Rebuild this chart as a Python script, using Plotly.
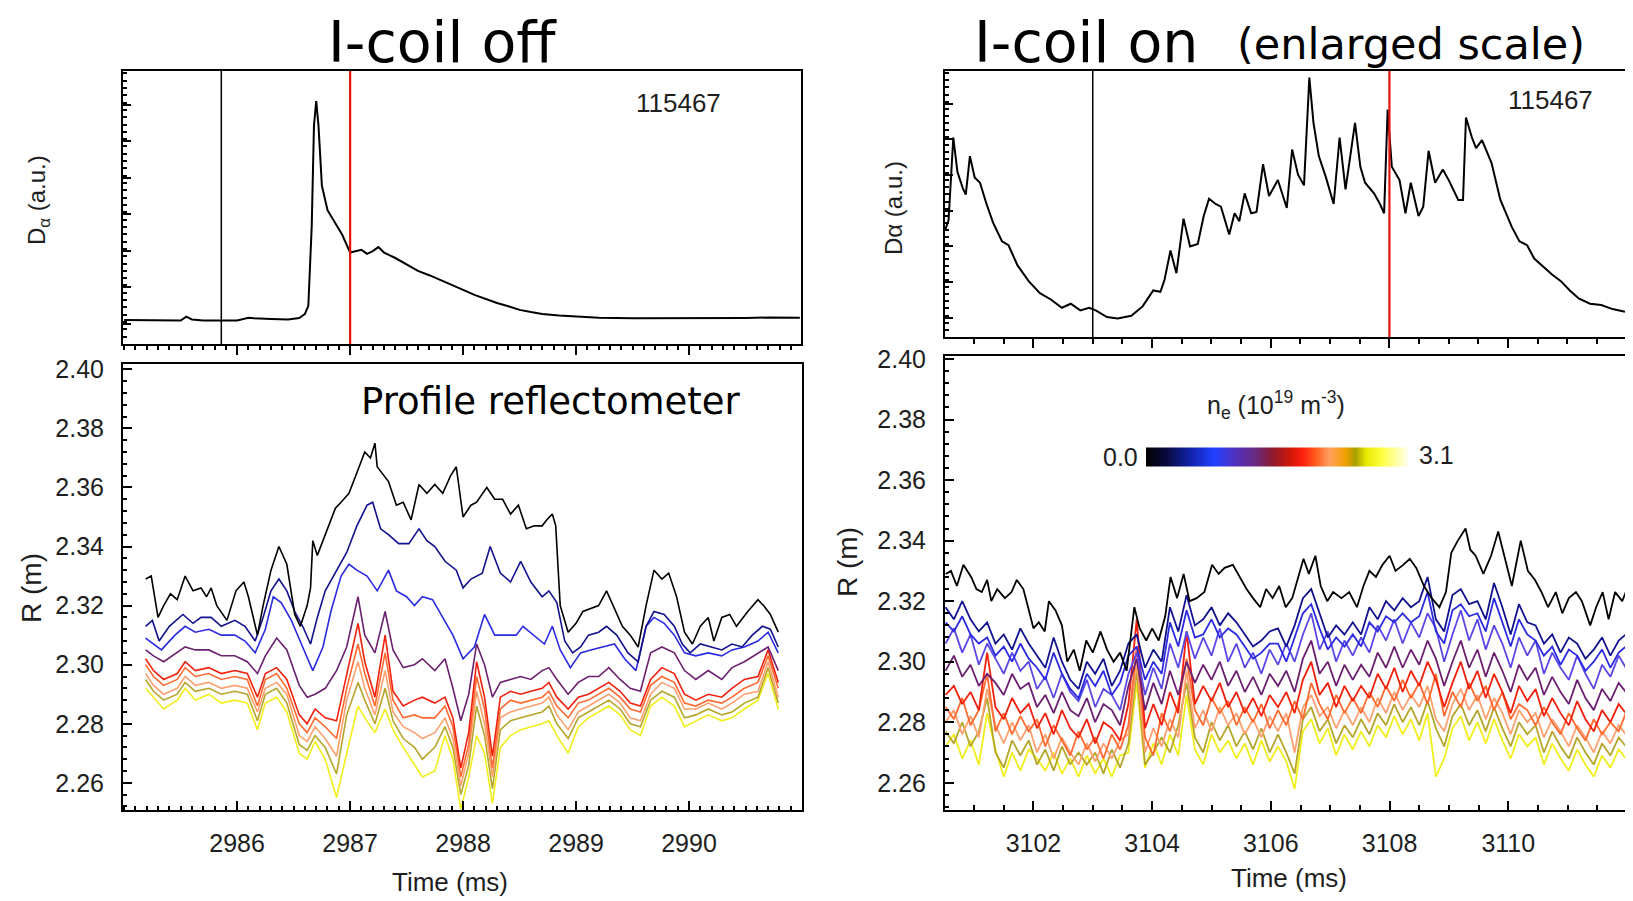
import plotly.graph_objects as go

# ---------------- D-alpha, I-coil off (arb. units, 0..1) ----------------
t_da_off = [2985.00, 2985.20, 2985.40, 2985.50, 2985.55, 2985.60, 2985.70, 2985.85, 2986.00, 2986.10,
            2986.15, 2986.30, 2986.45, 2986.55, 2986.60, 2986.63, 2986.66, 2986.68, 2986.70, 2986.72,
            2986.75, 2986.80, 2986.87, 2986.93, 2987.00, 2987.05, 2987.10, 2987.15, 2987.20, 2987.25,
            2987.30, 2987.40, 2987.50, 2987.60, 2987.70, 2987.80, 2987.90, 2988.00, 2988.10, 2988.20,
            2988.30, 2988.40, 2988.50, 2988.60, 2988.70, 2988.85, 2989.00, 2989.20, 2989.50, 2989.80,
            2990.00, 2990.30, 2990.50, 2990.70, 2990.98]
da_off = [0.088, 0.087, 0.085, 0.086, 0.100, 0.090, 0.086, 0.085, 0.086, 0.096,
          0.094, 0.092, 0.090, 0.095, 0.110, 0.140, 0.430, 0.800, 0.890, 0.800,
          0.580, 0.490, 0.440, 0.400, 0.335, 0.340, 0.345, 0.330, 0.340, 0.355,
          0.335, 0.315, 0.290, 0.268, 0.252, 0.235, 0.215, 0.198, 0.180, 0.165,
          0.150, 0.138, 0.125, 0.117, 0.110, 0.104, 0.100, 0.096, 0.094, 0.094,
          0.095, 0.096, 0.095, 0.097, 0.096]

# ---------------- D-alpha, I-coil on ----------------
t_da_on = [3100.51, 3100.57, 3100.65, 3100.72, 3100.81, 3100.86, 3100.93, 3101.01, 3101.10, 3101.21,
           3101.32, 3101.47, 3101.58, 3101.73, 3101.92, 3102.11, 3102.30, 3102.48, 3102.63, 3102.79,
           3102.94, 3103.05, 3103.24, 3103.42, 3103.65, 3103.84, 3104.02, 3104.14, 3104.21, 3104.31,
           3104.41, 3104.53, 3104.64, 3104.77, 3104.87, 3104.96, 3105.07, 3105.16, 3105.30, 3105.39,
           3105.47, 3105.56, 3105.67, 3105.76, 3105.87, 3105.97, 3106.12, 3106.27, 3106.36, 3106.46,
           3106.56, 3106.65, 3106.72, 3106.81, 3106.93, 3107.06, 3107.16, 3107.26, 3107.42, 3107.51,
           3107.59, 3107.74, 3107.84, 3107.91, 3107.97, 3108.04, 3108.17, 3108.27, 3108.36, 3108.49,
           3108.57, 3108.66, 3108.77, 3108.90, 3109.01, 3109.16, 3109.24, 3109.29, 3109.39, 3109.46,
           3109.56, 3109.72, 3109.87, 3110.06, 3110.19, 3110.32, 3110.44, 3110.59, 3110.74, 3110.89,
           3111.04, 3111.19, 3111.38, 3111.57, 3111.76, 3111.97]
da_on = [0.40, 0.44, 0.75, 0.62, 0.56, 0.535, 0.68, 0.60, 0.58, 0.50,
         0.43, 0.36, 0.345, 0.27, 0.21, 0.165, 0.14, 0.11, 0.125, 0.10,
         0.11, 0.10, 0.075, 0.07, 0.08, 0.115, 0.175, 0.17, 0.215, 0.325,
         0.24, 0.445, 0.34, 0.35, 0.455, 0.52, 0.50, 0.49, 0.385, 0.465,
         0.435, 0.54, 0.465, 0.47, 0.65, 0.53, 0.59, 0.485, 0.705, 0.61,
         0.57, 0.975, 0.805, 0.68, 0.60, 0.50, 0.75, 0.555, 0.805, 0.64,
         0.58, 0.54, 0.50, 0.465, 0.855, 0.64, 0.59, 0.465, 0.58, 0.455,
         0.49, 0.70, 0.58, 0.63, 0.585, 0.515, 0.515, 0.825, 0.75, 0.71,
         0.74, 0.655, 0.515, 0.415, 0.36, 0.345, 0.295, 0.265, 0.235, 0.21,
         0.175, 0.145, 0.125, 0.12, 0.105, 0.095]

# time markers (ms)
marker_off = [2985.86, 2987.00]
marker_on = [3103.00, 3108.00]

# ---------------- Reflectometer R (m), I-coil off ----------------
t_off_black = [2985.19, 2985.24, 2985.30, 2985.35, 2985.41, 2985.47, 2985.54, 2985.61, 2985.68, 2985.73,
               2985.77, 2985.82, 2985.91, 2985.99, 2986.06, 2986.10, 2986.18, 2986.23, 2986.30, 2986.37,
               2986.44, 2986.51, 2986.56, 2986.62, 2986.65, 2986.67, 2986.71, 2986.78, 2986.87, 2986.92,
               2986.99, 2987.06, 2987.13, 2987.18, 2987.22, 2987.24, 2987.34, 2987.41, 2987.47, 2987.54,
               2987.61, 2987.68, 2987.75, 2987.82, 2987.89, 2987.94, 2988.00, 2988.07, 2988.12, 2988.21,
               2988.28, 2988.35, 2988.42, 2988.49, 2988.56, 2988.63, 2988.70, 2988.74, 2988.79, 2988.82,
               2988.86, 2988.93, 2989.00, 2989.06, 2989.13, 2989.20, 2989.27, 2989.34, 2989.41, 2989.48,
               2989.55, 2989.62, 2989.69, 2989.76, 2989.82, 2989.89, 2989.96, 2990.03, 2990.10, 2990.17,
               2990.22, 2990.29, 2990.36, 2990.42, 2990.52, 2990.61, 2990.66, 2990.72, 2990.79]
r_off_black = [2.329, 2.330, 2.316, 2.320, 2.324, 2.322, 2.330, 2.325, 2.326, 2.323,
               2.326, 2.320, 2.315, 2.325, 2.328, 2.323, 2.310, 2.320, 2.332, 2.340,
               2.334, 2.317, 2.313, 2.320, 2.326, 2.342, 2.337, 2.344, 2.353, 2.355,
               2.358, 2.365, 2.372, 2.370, 2.375, 2.367, 2.362, 2.354, 2.355, 2.349,
               2.361, 2.358, 2.361, 2.358, 2.364, 2.367, 2.350, 2.354, 2.355, 2.360,
               2.356, 2.356, 2.351, 2.354, 2.346, 2.347, 2.347, 2.349, 2.351, 2.347,
               2.320, 2.311, 2.314, 2.318, 2.319, 2.320, 2.325, 2.319, 2.313, 2.310,
               2.306, 2.320, 2.332, 2.329, 2.331, 2.323, 2.311, 2.307, 2.313, 2.316,
               2.308, 2.316, 2.317, 2.313, 2.318, 2.322, 2.320, 2.317, 2.311]

t_off_navy = [2985.19, 2985.25, 2985.31, 2985.40, 2985.52, 2985.61, 2985.68, 2985.77, 2985.86, 2985.98,
              2986.07, 2986.16, 2986.23, 2986.30, 2986.37, 2986.44, 2986.51, 2986.58, 2986.65, 2986.71,
              2986.78, 2986.88, 2986.97, 2987.06, 2987.15, 2987.20, 2987.27, 2987.34, 2987.43, 2987.52,
              2987.61, 2987.68, 2987.75, 2987.84, 2987.94, 2988.00, 2988.07, 2988.17, 2988.24, 2988.33,
              2988.42, 2988.51, 2988.60, 2988.70, 2988.76, 2988.83, 2988.90, 2988.97, 2989.04, 2989.11,
              2989.20, 2989.27, 2989.36, 2989.46, 2989.55, 2989.62, 2989.69, 2989.78, 2989.87, 2989.94,
              2990.01, 2990.10, 2990.19, 2990.29, 2990.38, 2990.47, 2990.56, 2990.65, 2990.72, 2990.79]
r_off_navy = [2.313, 2.315, 2.308, 2.313, 2.317, 2.314, 2.316, 2.316, 2.313, 2.315,
              2.313, 2.308, 2.316, 2.325, 2.329, 2.325, 2.318, 2.313, 2.307, 2.316,
              2.325, 2.332, 2.338, 2.347, 2.354, 2.355, 2.346, 2.344, 2.341, 2.341,
              2.346, 2.342, 2.340, 2.335, 2.332, 2.326, 2.329, 2.331, 2.340, 2.331,
              2.328, 2.335, 2.328, 2.323, 2.325, 2.321, 2.308, 2.304, 2.306, 2.310,
              2.311, 2.313, 2.310, 2.304, 2.301, 2.313, 2.318, 2.317, 2.313, 2.307,
              2.304, 2.307, 2.306, 2.305, 2.307, 2.306, 2.310, 2.313, 2.312, 2.306]

t_off_blue = [2985.19, 2985.26, 2985.33, 2985.45, 2985.54, 2985.63, 2985.75, 2985.86, 2985.98, 2986.07,
              2986.16, 2986.25, 2986.32, 2986.39, 2986.48, 2986.58, 2986.67, 2986.76, 2986.83, 2986.92,
              2986.99, 2987.06, 2987.15, 2987.24, 2987.34, 2987.41, 2987.50, 2987.57, 2987.64, 2987.73,
              2987.82, 2987.91, 2988.00, 2988.10, 2988.19, 2988.28, 2988.37, 2988.47, 2988.53, 2988.63,
              2988.72, 2988.79, 2988.86, 2988.95, 2989.04, 2989.13, 2989.23, 2989.34, 2989.43, 2989.53,
              2989.62, 2989.69, 2989.78, 2989.87, 2989.96, 2990.06, 2990.17, 2990.29, 2990.38, 2990.49,
              2990.61, 2990.70, 2990.79]
r_off_blue = [2.309, 2.307, 2.305, 2.310, 2.313, 2.311, 2.312, 2.310, 2.310, 2.308,
              2.304, 2.312, 2.323, 2.321, 2.315, 2.306, 2.298, 2.306, 2.318, 2.330,
              2.334, 2.332, 2.330, 2.325, 2.332, 2.325, 2.323, 2.320, 2.323, 2.322,
              2.316, 2.310, 2.302, 2.306, 2.317, 2.310, 2.310, 2.310, 2.313, 2.310,
              2.307, 2.313, 2.305, 2.299, 2.304, 2.305, 2.306, 2.307, 2.302, 2.298,
              2.313, 2.316, 2.314, 2.310, 2.304, 2.303, 2.304, 2.303, 2.305, 2.306,
              2.308, 2.311, 2.304]

t_off = [2985.19, 2985.26, 2985.35, 2985.47, 2985.54, 2985.63, 2985.75, 2985.86, 2985.98, 2986.09,
         2986.18, 2986.25, 2986.35, 2986.44, 2986.55, 2986.62, 2986.69, 2986.78, 2986.88, 2986.97,
         2987.07, 2987.13, 2987.22, 2987.31, 2987.38, 2987.47, 2987.57, 2987.64, 2987.75, 2987.84,
         2987.91, 2987.98, 2988.05, 2988.12, 2988.19, 2988.26, 2988.33, 2988.42, 2988.51, 2988.60,
         2988.70, 2988.76, 2988.83, 2988.93, 2989.02, 2989.11, 2989.20, 2989.29, 2989.39, 2989.48,
         2989.57, 2989.66, 2989.76, 2989.87, 2989.96, 2990.06, 2990.17, 2990.29, 2990.38, 2990.49,
         2990.61, 2990.70, 2990.79]
r_off_purple = [2.305, 2.303, 2.301, 2.304, 2.306, 2.305, 2.305, 2.303, 2.303, 2.301,
                2.297, 2.303, 2.309, 2.305, 2.293, 2.289, 2.290, 2.292, 2.298, 2.306,
                2.323, 2.310, 2.304, 2.318, 2.305, 2.299, 2.300, 2.302, 2.298, 2.302,
                2.292, 2.281, 2.290, 2.307, 2.300, 2.289, 2.294, 2.295, 2.296, 2.295,
                2.298, 2.299, 2.295, 2.290, 2.294, 2.296, 2.296, 2.299, 2.295, 2.292,
                2.291, 2.304, 2.306, 2.304, 2.298, 2.295, 2.298, 2.295, 2.299, 2.301,
                2.304, 2.306, 2.298]
r_off_red = [2.302, 2.298, 2.295, 2.297, 2.301, 2.298, 2.299, 2.297, 2.298, 2.297,
             2.289, 2.297, 2.299, 2.295, 2.283, 2.280, 2.285, 2.282, 2.281, 2.297,
             2.314, 2.301, 2.289, 2.310, 2.291, 2.286, 2.288, 2.289, 2.287, 2.289,
             2.282, 2.265, 2.277, 2.301, 2.289, 2.269, 2.289, 2.291, 2.290, 2.291,
             2.292, 2.294, 2.289, 2.285, 2.289, 2.290, 2.292, 2.294, 2.291, 2.287,
             2.286, 2.295, 2.299, 2.297, 2.290, 2.288, 2.290, 2.289, 2.292, 2.295,
             2.296, 2.305, 2.294]
r_off_orange = [2.300, 2.296, 2.293, 2.295, 2.299, 2.296, 2.297, 2.295, 2.296, 2.295,
                2.286, 2.295, 2.297, 2.292, 2.280, 2.277, 2.282, 2.279, 2.275, 2.292,
                2.307, 2.297, 2.286, 2.304, 2.288, 2.282, 2.283, 2.282, 2.282, 2.286,
                2.279, 2.262, 2.273, 2.296, 2.285, 2.265, 2.285, 2.288, 2.287, 2.288,
                2.289, 2.291, 2.286, 2.282, 2.287, 2.288, 2.290, 2.292, 2.289, 2.285,
                2.284, 2.293, 2.296, 2.294, 2.287, 2.286, 2.288, 2.287, 2.289, 2.292,
                2.294, 2.303, 2.292]
r_off_lorange = [2.297, 2.293, 2.290, 2.292, 2.296, 2.293, 2.294, 2.292, 2.293, 2.292,
                 2.284, 2.292, 2.294, 2.290, 2.276, 2.274, 2.279, 2.275, 2.269, 2.288,
                 2.301, 2.292, 2.283, 2.298, 2.284, 2.279, 2.277, 2.275, 2.277, 2.282,
                 2.275, 2.259, 2.270, 2.291, 2.280, 2.262, 2.282, 2.284, 2.285, 2.286,
                 2.287, 2.289, 2.283, 2.278, 2.284, 2.286, 2.288, 2.290, 2.287, 2.282,
                 2.281, 2.290, 2.294, 2.292, 2.285, 2.285, 2.287, 2.285, 2.287, 2.290,
                 2.291, 2.301, 2.289]
r_off_olive = [2.295, 2.291, 2.288, 2.290, 2.294, 2.291, 2.292, 2.290, 2.291, 2.290,
               2.281, 2.290, 2.292, 2.287, 2.273, 2.271, 2.276, 2.272, 2.263, 2.283,
               2.294, 2.288, 2.280, 2.292, 2.281, 2.275, 2.272, 2.268, 2.272, 2.279,
               2.272, 2.256, 2.266, 2.286, 2.276, 2.258, 2.278, 2.281, 2.282, 2.283,
               2.284, 2.286, 2.280, 2.275, 2.282, 2.284, 2.286, 2.288, 2.285, 2.280,
               2.279, 2.288, 2.291, 2.289, 2.282, 2.283, 2.285, 2.283, 2.284, 2.287,
               2.289, 2.299, 2.287]
r_off_yellow = [2.292, 2.289, 2.285, 2.288, 2.292, 2.288, 2.290, 2.287, 2.288, 2.287,
                2.278, 2.287, 2.289, 2.284, 2.270, 2.268, 2.274, 2.268, 2.255, 2.270,
                2.286, 2.282, 2.277, 2.285, 2.278, 2.272, 2.266, 2.262, 2.264, 2.276,
                2.268, 2.251, 2.262, 2.276, 2.270, 2.253, 2.272, 2.276, 2.278, 2.279,
                2.280, 2.281, 2.276, 2.270, 2.279, 2.282, 2.284, 2.286, 2.283, 2.278,
                2.276, 2.286, 2.289, 2.286, 2.279, 2.281, 2.283, 2.281, 2.282, 2.285,
                2.288, 2.297, 2.285]

# ---------------- Reflectometer R (m), I-coil on ----------------
t_on_black = [3100.52, 3100.61, 3100.71, 3100.82, 3100.95, 3101.04, 3101.13, 3101.22, 3101.29, 3101.39,
              3101.52, 3101.63, 3101.72, 3101.83, 3101.91, 3102.00, 3102.09, 3102.19, 3102.26, 3102.37,
              3102.48, 3102.57, 3102.68, 3102.78, 3102.89, 3103.00, 3103.13, 3103.24, 3103.35, 3103.46,
              3103.57, 3103.70, 3103.79, 3103.90, 3104.00, 3104.11, 3104.22, 3104.31, 3104.42, 3104.53,
              3104.63, 3104.75, 3104.88, 3105.01, 3105.12, 3105.22, 3105.36, 3105.47, 3105.59, 3105.70,
              3105.82, 3105.92, 3106.03, 3106.14, 3106.25, 3106.36, 3106.46, 3106.55, 3106.64, 3106.75,
              3106.84, 3106.95, 3107.05, 3107.19, 3107.32, 3107.45, 3107.56, 3107.66, 3107.77, 3107.88,
              3108.00, 3108.10, 3108.23, 3108.34, 3108.45, 3108.58, 3108.71, 3108.84, 3108.95, 3109.04,
              3109.15, 3109.28, 3109.36, 3109.45, 3109.58, 3109.71, 3109.83, 3109.93, 3110.06, 3110.21,
              3110.33, 3110.45, 3110.56, 3110.67, 3110.80, 3110.91, 3111.02, 3111.14, 3111.24, 3111.38,
              3111.48, 3111.59, 3111.69, 3111.80, 3111.92, 3111.98]
r_on_black = [2.329, 2.330, 2.325, 2.332, 2.328, 2.324, 2.323, 2.327, 2.320, 2.324,
              2.321, 2.323, 2.327, 2.324, 2.318, 2.311, 2.313, 2.310, 2.320, 2.317,
              2.312, 2.300, 2.304, 2.297, 2.307, 2.303, 2.310, 2.304, 2.300, 2.303,
              2.297, 2.318, 2.311, 2.307, 2.311, 2.307, 2.315, 2.328, 2.321, 2.329,
              2.320, 2.321, 2.323, 2.332, 2.329, 2.331, 2.332, 2.328, 2.324, 2.321,
              2.318, 2.324, 2.321, 2.325, 2.318, 2.321, 2.328, 2.334, 2.329, 2.335,
              2.325, 2.320, 2.323, 2.321, 2.323, 2.318, 2.325, 2.330, 2.328, 2.332,
              2.335, 2.330, 2.332, 2.334, 2.331, 2.325, 2.321, 2.318, 2.323, 2.336,
              2.340, 2.344, 2.337, 2.335, 2.329, 2.335, 2.343, 2.335, 2.325, 2.340,
              2.330, 2.327, 2.323, 2.318, 2.323, 2.316, 2.321, 2.323, 2.320, 2.312,
              2.318, 2.323, 2.314, 2.323, 2.320, 2.323]

t_on = [3100.52, 3100.66, 3100.80, 3100.94, 3101.08, 3101.22, 3101.36, 3101.50, 3101.64, 3101.78,
        3101.92, 3102.06, 3102.20, 3102.34, 3102.48, 3102.62, 3102.76, 3102.90, 3103.04, 3103.18,
        3103.32, 3103.46, 3103.60, 3103.74, 3103.88, 3104.02, 3104.16, 3104.30, 3104.44, 3104.58,
        3104.72, 3104.86, 3105.00, 3105.14, 3105.28, 3105.42, 3105.56, 3105.70, 3105.84, 3105.98,
        3106.12, 3106.26, 3106.40, 3106.54, 3106.68, 3106.82, 3106.96, 3107.10, 3107.24, 3107.38,
        3107.52, 3107.66, 3107.80, 3107.94, 3108.08, 3108.22, 3108.36, 3108.50, 3108.64, 3108.78,
        3108.92, 3109.06, 3109.20, 3109.34, 3109.48, 3109.62, 3109.76, 3109.90, 3110.04, 3110.18,
        3110.32, 3110.46, 3110.60, 3110.74, 3110.88, 3111.02, 3111.16, 3111.30, 3111.44, 3111.58,
        3111.72, 3111.86, 3111.98]
r_on_navy = [2.318, 2.314, 2.320, 2.314, 2.310, 2.313, 2.306, 2.309, 2.304, 2.311,
             2.306, 2.302, 2.298, 2.308, 2.300, 2.294, 2.291, 2.300, 2.296, 2.301,
             2.292, 2.297, 2.306, 2.309, 2.298, 2.304, 2.300, 2.318, 2.310, 2.322,
             2.312, 2.314, 2.318, 2.312, 2.316, 2.313, 2.309, 2.305, 2.307, 2.310,
             2.311, 2.305, 2.312, 2.321, 2.324, 2.316, 2.308, 2.312, 2.309, 2.313,
             2.309, 2.318, 2.314, 2.320, 2.317, 2.321, 2.318, 2.320, 2.328, 2.314,
             2.310, 2.322, 2.324, 2.319, 2.320, 2.314, 2.326, 2.318, 2.309, 2.319,
             2.313, 2.312, 2.306, 2.309, 2.303, 2.308, 2.306, 2.301, 2.304, 2.308,
             2.302, 2.307, 2.309]
r_on_blue = [2.313, 2.310, 2.315, 2.309, 2.306, 2.308, 2.302, 2.305, 2.300, 2.306,
             2.301, 2.298, 2.294, 2.303, 2.296, 2.291, 2.288, 2.296, 2.292, 2.297,
             2.289, 2.293, 2.302, 2.305, 2.294, 2.300, 2.296, 2.313, 2.305, 2.317,
             2.308, 2.309, 2.314, 2.308, 2.311, 2.309, 2.305, 2.301, 2.303, 2.306,
             2.306, 2.300, 2.308, 2.316, 2.319, 2.311, 2.304, 2.308, 2.305, 2.309,
             2.305, 2.313, 2.310, 2.315, 2.313, 2.316, 2.313, 2.315, 2.323, 2.310,
             2.306, 2.317, 2.319, 2.315, 2.316, 2.310, 2.321, 2.313, 2.305, 2.314,
             2.309, 2.307, 2.302, 2.305, 2.299, 2.304, 2.302, 2.297, 2.300, 2.304,
             2.298, 2.303, 2.305]
r_on_violet = [2.306, 2.311, 2.303, 2.309, 2.299, 2.306, 2.301, 2.296, 2.303, 2.297,
               2.300, 2.291, 2.295, 2.288, 2.296, 2.290, 2.287, 2.294, 2.285, 2.291,
               2.289, 2.284, 2.296, 2.303, 2.289, 2.298, 2.291, 2.306, 2.298, 2.310,
               2.301, 2.308, 2.302, 2.311, 2.300, 2.306, 2.298, 2.303, 2.296, 2.304,
               2.299, 2.306, 2.300, 2.309, 2.316, 2.304, 2.310, 2.300, 2.307, 2.302,
               2.308, 2.303, 2.312, 2.307, 2.314, 2.306, 2.313, 2.308, 2.316, 2.311,
               2.300, 2.309, 2.317, 2.307, 2.314, 2.304, 2.312, 2.306, 2.298, 2.308,
               2.302, 2.307, 2.296, 2.303, 2.298, 2.294, 2.302, 2.296, 2.291, 2.299,
               2.295, 2.302, 2.298]
r_on_purple = [2.297, 2.302, 2.295, 2.299, 2.292, 2.296, 2.293, 2.289, 2.296, 2.291,
               2.293, 2.285, 2.289, 2.283, 2.290, 2.284, 2.282, 2.288, 2.280, 2.286,
               2.284, 2.279, 2.292, 2.301, 2.284, 2.293, 2.286, 2.297, 2.289, 2.300,
               2.293, 2.299, 2.294, 2.300, 2.292, 2.297, 2.290, 2.295, 2.289, 2.296,
               2.292, 2.297, 2.290, 2.301, 2.307, 2.296, 2.300, 2.292, 2.299, 2.294,
               2.299, 2.295, 2.303, 2.298, 2.305, 2.298, 2.304, 2.299, 2.307, 2.301,
               2.292, 2.300, 2.307, 2.298, 2.304, 2.295, 2.303, 2.297, 2.290, 2.299,
               2.294, 2.298, 2.289, 2.295, 2.290, 2.286, 2.294, 2.288, 2.284, 2.291,
               2.287, 2.293, 2.290]
r_on_red = [2.289, 2.292, 2.286, 2.290, 2.284, 2.303, 2.285, 2.281, 2.288, 2.283,
            2.286, 2.278, 2.283, 2.276, 2.284, 2.278, 2.275, 2.281, 2.273, 2.280,
            2.278, 2.274, 2.286, 2.314, 2.278, 2.286, 2.279, 2.290, 2.283, 2.310,
            2.286, 2.292, 2.287, 2.293, 2.285, 2.290, 2.283, 2.288, 2.282, 2.289,
            2.285, 2.290, 2.283, 2.294, 2.300, 2.289, 2.293, 2.285, 2.292, 2.287,
            2.292, 2.288, 2.296, 2.291, 2.298, 2.290, 2.297, 2.292, 2.300, 2.294,
            2.285, 2.293, 2.300, 2.291, 2.297, 2.288, 2.296, 2.290, 2.283, 2.292,
            2.287, 2.291, 2.282, 2.288, 2.283, 2.279, 2.287, 2.281, 2.277, 2.284,
            2.280, 2.286, 2.283]
r_on_orange = [2.285, 2.281, 2.288, 2.279, 2.284, 2.296, 2.277, 2.283, 2.276, 2.282,
               2.277, 2.281, 2.272, 2.279, 2.274, 2.269, 2.277, 2.271, 2.275, 2.268,
               2.276, 2.271, 2.279, 2.305, 2.275, 2.269, 2.283, 2.277, 2.286, 2.301,
               2.284, 2.279, 2.288, 2.283, 2.287, 2.279, 2.285, 2.280, 2.286, 2.278,
               2.284, 2.279, 2.287, 2.281, 2.293, 2.286, 2.281, 2.289, 2.283, 2.288,
               2.283, 2.290, 2.285, 2.292, 2.287, 2.294, 2.288, 2.293, 2.286, 2.296,
               2.282, 2.290, 2.285, 2.293, 2.287, 2.292, 2.284, 2.290, 2.281, 2.286,
               2.284, 2.279, 2.285, 2.280, 2.276, 2.283, 2.278, 2.274, 2.281, 2.276,
               2.280, 2.277, 2.283]
r_on_lorange = [2.280, 2.284, 2.276, 2.282, 2.275, 2.291, 2.279, 2.273, 2.280, 2.274,
                2.279, 2.270, 2.276, 2.268, 2.275, 2.270, 2.266, 2.273, 2.267, 2.273,
                2.268, 2.274, 2.276, 2.300, 2.270, 2.278, 2.272, 2.281, 2.275, 2.297,
                2.278, 2.284, 2.277, 2.285, 2.279, 2.283, 2.276, 2.281, 2.275, 2.282,
                2.277, 2.283, 2.270, 2.285, 2.289, 2.282, 2.285, 2.278, 2.284, 2.279,
                2.285, 2.280, 2.288, 2.283, 2.290, 2.284, 2.289, 2.285, 2.292, 2.281,
                2.277, 2.286, 2.291, 2.284, 2.289, 2.281, 2.288, 2.283, 2.276, 2.284,
                2.280, 2.283, 2.275, 2.281, 2.277, 2.272, 2.279, 2.275, 2.270, 2.277,
                2.273, 2.279, 2.276]
r_on_olive = [2.277, 2.273, 2.280, 2.272, 2.277, 2.288, 2.270, 2.265, 2.274, 2.269,
              2.274, 2.266, 2.271, 2.264, 2.272, 2.266, 2.270, 2.266, 2.270, 2.263,
              2.271, 2.265, 2.273, 2.297, 2.266, 2.270, 2.275, 2.270, 2.279, 2.293,
              2.275, 2.270, 2.280, 2.274, 2.279, 2.272, 2.277, 2.271, 2.278, 2.270,
              2.276, 2.270, 2.263, 2.281, 2.285, 2.277, 2.281, 2.273, 2.279, 2.275,
              2.281, 2.276, 2.283, 2.279, 2.286, 2.280, 2.285, 2.279, 2.287, 2.278,
              2.272, 2.282, 2.286, 2.279, 2.284, 2.277, 2.285, 2.278, 2.272, 2.280,
              2.276, 2.279, 2.270, 2.277, 2.272, 2.268, 2.275, 2.270, 2.266, 2.273,
              2.269, 2.275, 2.272]
r_on_yellow = [2.272, 2.276, 2.268, 2.274, 2.266, 2.283, 2.271, 2.262, 2.270, 2.264,
               2.271, 2.268, 2.264, 2.270, 2.263, 2.268, 2.262, 2.269, 2.263, 2.268,
               2.262, 2.269, 2.270, 2.293, 2.265, 2.273, 2.266, 2.276, 2.269, 2.289,
               2.271, 2.266, 2.276, 2.270, 2.274, 2.268, 2.273, 2.266, 2.274, 2.267,
               2.272, 2.267, 2.258, 2.277, 2.281, 2.273, 2.278, 2.269, 2.276, 2.271,
               2.277, 2.272, 2.279, 2.275, 2.282, 2.276, 2.281, 2.274, 2.283, 2.262,
               2.268, 2.278, 2.282, 2.274, 2.280, 2.273, 2.281, 2.274, 2.268, 2.276,
               2.272, 2.275, 2.266, 2.273, 2.268, 2.264, 2.271, 2.266, 2.262, 2.269,
               2.265, 2.271, 2.268]

time_ticks_off = [2986, 2987, 2988, 2989, 2990]
time_ticks_on = [3102, 3104, 3106, 3108, 3110]
r_ticks = [2.26, 2.28, 2.30, 2.32, 2.34, 2.36, 2.38, 2.40]
ne_range = [0.0, 3.1]

# ---------------- styling ----------------
C = dict(black='#000000', navy='#12128e', blue='#2b2be2', violet='#5a48e6', purple='#6c2070',
         red='#f0200c', orange='#ff6a30', lorange='#ffa070', olive='#b5a52a', yellow='#f2ee1c')
ne_scale = [[0.0, '#000000'], [0.08, '#0a0a40'], [0.16, '#1020a0'], [0.26, '#2040ff'],
            [0.34, '#5030c0'], [0.42, '#6a2a80'], [0.48, '#8a1a30'], [0.55, '#d01808'],
            [0.60, '#ff2010'], [0.65, '#ff6020'], [0.70, '#ffa060'], [0.76, '#f0a000'],
            [0.80, '#a8a000'], [0.84, '#e8e800'], [0.90, '#ffff40'], [1.0, '#fffff0']]

# the page body adds an 8 px offset; lay out in screen pixels and compensate
OFF = 8
W, H = 1633 - OFF, 901 - OFF
SANS = 'Liberation Sans, Arial, sans-serif'
TICKFONT = dict(family=SANS, size=25, color='#1e1e1e')

fig = go.Figure()


def line(x, y, color, xa, ya, width=1.6):
    fig.add_trace(go.Scatter(x=x, y=y, mode='lines', line=dict(color=color, width=width),
                             xaxis=xa, yaxis=ya, showlegend=False, hoverinfo='skip'))


line(t_da_off, da_off, C['black'], 'x', 'y', 2.0)
line(t_da_on, da_on, C['black'], 'x3', 'y3', 2.0)

for r, c in [(r_off_yellow, 'yellow'), (r_off_olive, 'olive'), (r_off_lorange, 'lorange'),
             (r_off_orange, 'orange'), (r_off_red, 'red'), (r_off_purple, 'purple')]:
    line(t_off, r, C[c], 'x2', 'y2')
line(t_off_blue, r_off_blue, C['blue'], 'x2', 'y2')
line(t_off_navy, r_off_navy, C['navy'], 'x2', 'y2')
line(t_off_black, r_off_black, C['black'], 'x2', 'y2')

for r, c in [(r_on_yellow, 'yellow'), (r_on_olive, 'olive'), (r_on_lorange, 'lorange'),
             (r_on_orange, 'orange'), (r_on_red, 'red'), (r_on_purple, 'purple'),
             (r_on_violet, 'violet'), (r_on_blue, 'blue'), (r_on_navy, 'navy')]:
    line(t_on, r, C[c], 'x4', 'y4', 1.8)
line(t_on_black, r_on_black, C['black'], 'x4', 'y4', 1.8)


def px(x):
    return (x - OFF) / W


def py(y):
    return 1 - (y - OFF) / H


# colour bar for n_e
fig.add_trace(go.Scatter(
    x=[None], y=[None], mode='markers', xaxis='x4', yaxis='y4', showlegend=False, hoverinfo='skip',
    marker=dict(color=ne_range, cmin=ne_range[0], cmax=ne_range[1], colorscale=ne_scale, showscale=True,
                colorbar=dict(orientation='h', x=px(1277), y=py(457), xanchor='center', yanchor='middle',
                              len=262, lenmode='pixels', thickness=19, showticklabels=False, ticks='',
                              outlinewidth=0, xpad=0, ypad=0))))

frame = dict(showline=True, linecolor='black', linewidth=2, mirror=True, showgrid=False, zeroline=False)

fig.update_layout(
    # top-left
    xaxis=dict(domain=[px(123), px(801)], range=[2984.99, 2990.99], anchor='y', tickvals=time_ticks_off,
               showticklabels=False, ticks='outside', ticklen=9, tickwidth=1.5, tickcolor='black',
               minor=dict(dtick=0.1, ticks='outside', ticklen=4, tickcolor='black'), **frame),
    yaxis=dict(domain=[py(344), py(71)], range=[0, 1], anchor='x', showticklabels=False,
               tick0=0.073, dtick=0.134, ticks='inside', ticklen=8, tickcolor='black', tickwidth=1.5,
               minor=dict(dtick=0.0268, ticks='inside', ticklen=4, tickcolor='black'), **frame),
    # bottom-left
    xaxis2=dict(domain=[px(123), px(802)], range=[2984.99, 2991.0], anchor='y2', tickvals=time_ticks_off,
                ticktext=[str(v) for v in time_ticks_off], tickfont=TICKFONT, ticks='inside', ticklen=9,
                tickwidth=1.5, tickcolor='black', ticklabelstandoff=10,
                minor=dict(dtick=0.1, ticks='inside', ticklen=4, tickcolor='black'), **frame),
    yaxis2=dict(domain=[py(810), py(364)], range=[2.2508, 2.4018], anchor='x2', tickvals=r_ticks,
                ticktext=['%.2f' % v for v in r_ticks], tickfont=TICKFONT, ticks='inside', ticklen=9,
                tickwidth=1.5, tickcolor='black', ticklabelstandoff=12,
                minor=dict(dtick=0.004, tick0=2.24, ticks='inside', ticklen=4, tickcolor='black'), **frame),
    # top-right
    xaxis3=dict(domain=[px(945), px(1625)], range=[3100.51, 3111.97], anchor='y3', tickvals=time_ticks_on,
                showticklabels=False, ticks='outside', ticklen=9, tickwidth=1.5, tickcolor='black',
                minor=dict(dtick=0.5, tick0=3100, ticks='outside', ticklen=5, tickcolor='black'), **frame),
    yaxis3=dict(domain=[py(337), py(71)], range=[0, 1], anchor='x3', showticklabels=False,
                tick0=0.073, dtick=0.134, ticks='inside', ticklen=8, tickcolor='black', tickwidth=1.5,
                minor=dict(dtick=0.0268, ticks='inside', ticklen=4, tickcolor='black'), **frame),
    # bottom-right
    xaxis4=dict(domain=[px(945), px(1627)], range=[3100.51, 3112.0], anchor='y4', tickvals=time_ticks_on,
                ticktext=[str(v) for v in time_ticks_on], tickfont=TICKFONT, ticks='inside', ticklen=9,
                tickwidth=1.5, tickcolor='black', ticklabelstandoff=10,
                minor=dict(dtick=0.5, tick0=3100, ticks='inside', ticklen=5, tickcolor='black'), **frame),
    yaxis4=dict(domain=[py(810), py(356)], range=[2.2510, 2.4010], anchor='x4', tickvals=r_ticks,
                ticktext=['%.2f' % v for v in r_ticks], tickfont=TICKFONT, ticks='inside', ticklen=9,
                tickwidth=1.5, tickcolor='black', ticklabelstandoff=12,
                minor=dict(dtick=0.004, tick0=2.24, ticks='inside', ticklen=4, tickcolor='black'), **frame),
)

shapes = []
for xv, col, w, xr, yr in [(marker_off[0], 'black', 1.5, 'x', 'y'), (marker_off[1], '#e8140c', 2.2, 'x', 'y'),
                           (marker_on[0], 'black', 1.5, 'x3', 'y3'), (marker_on[1], '#e8140c', 2.2, 'x3', 'y3')]:
    shapes.append(dict(type='line', xref=xr, yref=yr + ' domain', x0=xv, x1=xv, y0=0, y1=1,
                       line=dict(color=col, width=w)))

ann = []


def text(x, y, s, size, family='DejaVu Sans', color='black', angle=0):
    ann.append(dict(x=px(x), y=py(y), xref='paper', yref='paper', text=s, showarrow=False,
                    xanchor='center', yanchor='middle', textangle=angle,
                    font=dict(family=family, size=size, color=color)))


text(443, 42, 'I-coil off', 57)
text(1086, 42, 'I-coil on', 57)
text(1411, 44, '(enlarged scale)', 43)
text(551, 402, 'Profile reflectometer', 37)
text(678, 103, '115467', 26, SANS, '#1e1e1e')
text(1550, 100, '115467', 26, SANS, '#1e1e1e')
text(450, 882, 'Time (ms)', 26, SANS, '#1e1e1e')
text(1289, 878, 'Time (ms)', 26, SANS, '#1e1e1e')
text(31, 588, 'R (m)', 28, SANS, '#1e1e1e', -90)
text(847, 562, 'R (m)', 28, SANS, '#1e1e1e', -90)
text(39, 200, 'D<sub>α</sub> (a.u.)', 24, SANS, '#1e1e1e', -90)
text(893, 208, 'Dα (a.u.)', 24, SANS, '#1e1e1e', -90)
text(1276, 405, 'n<sub>e</sub> (10<sup>19</sup> m<sup>-3</sup>)', 25, SANS, '#1e1e1e')
text(1120, 457, '%.1f' % ne_range[0], 25, SANS, '#1e1e1e')
text(1436, 455, '%.1f' % ne_range[1], 25, SANS, '#1e1e1e')

fig.update_layout(width=W, height=H, margin=dict(l=0, r=0, t=0, b=0, pad=0, autoexpand=False),
                  paper_bgcolor='white', plot_bgcolor='white', shapes=shapes, annotations=ann,
                  showlegend=False)

fig.write_html('out.html')
